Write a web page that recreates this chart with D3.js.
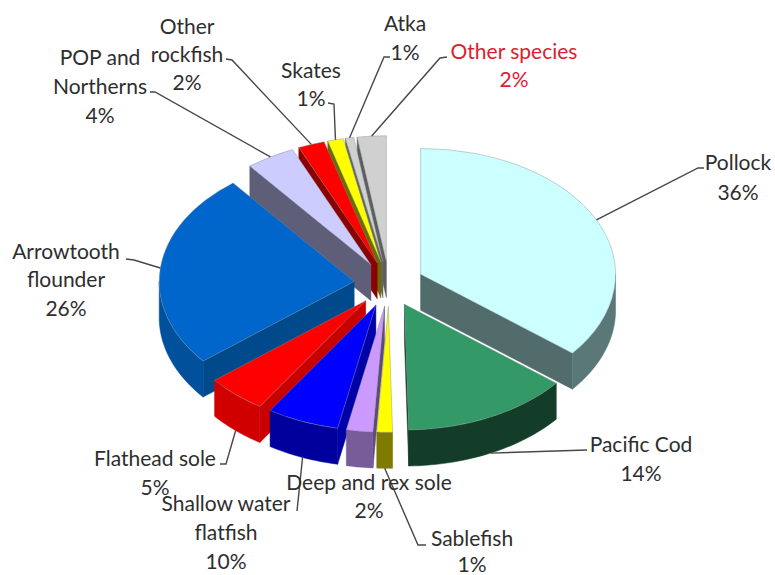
<!DOCTYPE html>
<html><head><meta charset="utf-8">
<script src="https://cdnjs.cloudflare.com/ajax/libs/d3/7.8.5/d3.min.js"></script>
<style>html,body{margin:0;padding:0;background:#fff}svg{display:block}text{font-family:Lato,"Open Sans",sans-serif}</style>
</head><body><svg id="c" width="775" height="575"></svg>
<script>
// Data: categories, wedge sizes as measured in the picture, printed percentage labels
const categories = ["Pollock","Pacific Cod","Sablefish","Deep and rex sole","Shallow water flatfish","Flathead sole","Arrowtooth flounder","POP and Northerns","Other rockfish","Skates","Atka","Other species"];
const wedgeValues = [35.9,13.9,1.3,2.2,6.0,5.0,25.3,4.1,2.2,1.3,0.7,2.4];
const printedPercent = ["36%","14%","1%","2%","10%","5%","26%","4%","2%","1%","1%","2%"];

// Styles
const topColors  = ["#CCFFFF","#339966","#FFFF00","#CC99FF","#0000FF","#FF0000","#0066CC","#CCCCFF","#FF0000","#FFFF00","#D0D0D0","#D0D0D0"];
const rimColors  = ["#5A7878","#143D29","#7F7A00","#775C99","#00009C","#D00000","#00509C","#5E5E78","#8B0000","#6B6B00","#666666","#6E6E6E"];
const sideColors = ["#526B6B","#143D29","#7F7A00","#5F4A7A","#0000A8","#C80000","#004A8C","#5E5E78","#8B0000","#6B6B00","#666666","#5E5E5E"];

// Layout
const cx=389, cy=284, R=195, tilt=0.645, depth=36, explode=35, fontSize=21;
const labelLayout = [
 {lines:["Pollock"],x:738,y:161,dy:30,elbow:[[698,168],[704,168]]},
 {lines:["Pacific Cod"],x:641,y:443,dy:29,elbow:[[587,450]]},
 {lines:["Sablefish"],x:472,y:537,dy:26,elbow:[[418,545],[426,545]]},
 {lines:["Deep and rex sole"],x:369,y:481,dy:28,elbow:null},
 {lines:["Shallow water","flatfish"],x:226,y:502,dy:29,elbow:[[297,511]]},
 {lines:["Flathead sole"],x:155,y:457,dy:29,elbow:[[226,464],[220,464]]},
 {lines:["Arrowtooth","flounder"],x:66,y:250,dy:28.5,elbow:[[134,260],[126,259]]},
 {lines:["POP and","Northerns"],x:100,y:56,dy:29,elbow:[[155,92],[150,92]]},
 {lines:["Other","rockfish"],x:187,y:25,dy:28,elbow:[[232,60],[226,59]]},
 {lines:["Skates"],x:311,y:69,dy:28,elbow:[[334,104],[328,103]]},
 {lines:["Atka"],x:405,y:22,dy:29,elbow:[[384,57],[390,57]]},
 {lines:["Other species"],x:514,y:50,dy:28,elbow:[[440,58],[447,57]],color:"#DD2030"}
];

const svg = d3.select("#c");
const slices = d3.pie().sort(null).value(d=>d)(wedgeValues).map((s,i)=>{
  const mid=(s.startAngle+s.endAngle)/2;
  return {...s,i,mid,ax:cx+explode*Math.sin(mid),ay:cy-tilt*explode*Math.cos(mid)};
});
const rim = (s,a,h=0)=>[s.ax+R*Math.sin(a), s.ay-tilt*R*Math.cos(a)+h];
const line = d3.line();
const arcTop = d3.arc().innerRadius(0).outerRadius(R);
const order = slices.slice().sort((p,q)=>Math.cos(q.mid)-Math.cos(p.mid));
const edge = 0.7;

order.forEach(s=>{
  const g=svg.append("g");
  const wall=(a,c)=>g.append("path")
    .attr("d",line([[s.ax,s.ay],rim(s,a),rim(s,a,depth),[s.ax,s.ay+depth]])+"Z")
    .attr("fill",c).attr("stroke",c).attr("stroke-width",0.5);
  // radial side walls facing the viewer
  if(Math.sin(s.startAngle)<-0.001) wall(s.startAngle,sideColors[s.i]);
  if(Math.sin(s.endAngle)>0.001) wall(s.endAngle,sideColors[s.i]);
  // outer rim wall
  const a0=Math.max(s.startAngle,Math.PI/2), a1=Math.min(s.endAngle,Math.PI*1.5);
  if(a1>a0){
    const n=Math.max(4,Math.ceil((a1-a0)/0.03));
    const as=d3.range(n+1).map(k=>a0+(a1-a0)*k/n);
    const pts=as.map(a=>rim(s,a)).concat(as.slice().reverse().map(a=>rim(s,a,depth)));
    g.append("path").attr("d",line(pts)+"Z").attr("fill",rimColors[s.i]).attr("stroke",rimColors[s.i]).attr("stroke-width",0.5);
  }
  // top face
  g.append("path")
    .attr("d",arcTop(s))
    .attr("transform",`translate(${s.ax},${s.ay}) scale(1,${tilt})`)
    .attr("fill",topColors[s.i])
    .attr("stroke","#7f8f8f").attr("stroke-opacity",0.6)
    .attr("stroke-width",edge).attr("vector-effect","non-scaling-stroke");
});

// leader lines start on the slice rim at its mid-angle
labelLayout.forEach((l,i)=>{
  if(!l.elbow) return;
  const s=slices[i];
  const start=rim(s,s.mid,Math.cos(s.mid)<0?depth:0);
  svg.append("path").attr("d",line([start,...l.elbow]))
    .attr("fill","none").attr("stroke","#474747").attr("stroke-width",1.4);
});

// labels
labelLayout.forEach((l,i)=>{
  const rows=[...l.lines,printedPercent[i]];
  rows.forEach((t,r)=>{
    svg.append("text").attr("x",l.x).attr("y",l.y+r*l.dy)
      .attr("text-anchor","middle").attr("dominant-baseline","central")
      .attr("font-size",fontSize).attr("fill",l.color||"#2e2e2e").text(t);
  });
});
</script></body></html>
